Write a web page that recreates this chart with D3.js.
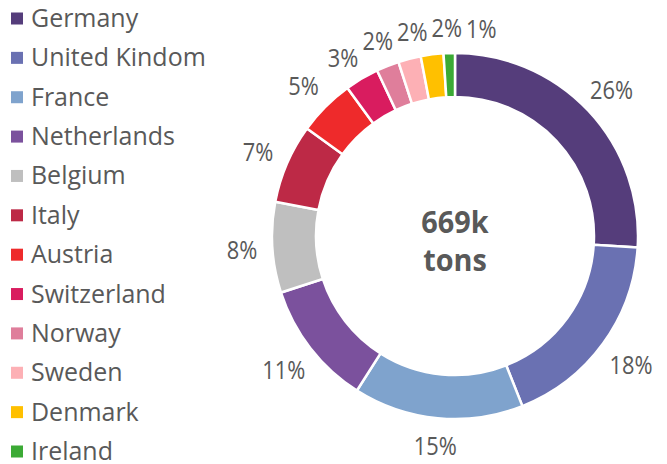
<!DOCTYPE html>
<html>
<head>
<meta charset="utf-8">
<script src="https://cdn.jsdelivr.net/npm/d3@7"></script>
<style>
  body { margin: 0; background: #fff; }
  text { font-family: "Open Sans", "Noto Sans", sans-serif; fill: #595959; }
</style>
</head>
<body>
<svg id="chart" width="667" height="464"></svg>
<script>
// Tonnage share by destination country (percent of total)
const countries = ["Germany", "United Kindom", "France", "Netherlands", "Belgium", "Italy",
                   "Austria", "Switzerland", "Norway", "Sweden", "Denmark", "Ireland"];
const shares = [26, 18, 15, 11, 8, 7, 5, 3, 2, 2, 2, 1];
const colors = ["#553D7B", "#6A71B2", "#7FA3CD", "#7B519D", "#BFBFBF", "#BD2946",
                "#EE2A2B", "#D91C5F", "#DF7E9B", "#FDB0B5", "#FFC000", "#3BAA35"];
const totalLines = ["669k", "tons"];

const svg = d3.select("#chart");
const cx = 455, cy = 236, outerR = 183, innerR = 139;

// Squeeze a text run horizontally so the wide sans fallback reads like a condensed face
function condense(sel, factor) {
  sel.each(function () {
    const len = this.getComputedTextLength();
    d3.select(this).attr("textLength", len * factor).attr("lengthAdjust", "spacingAndGlyphs");
  });
}

// ---- Legend ----
const legend = svg.append("g").attr("class", "legend");
const rowY = d3.scalePoint().domain(countries).range([27, 460]);
const rows = legend.selectAll("g").data(countries).join("g")
  .attr("transform", d => `translate(0,${rowY(d)})`);
rows.append("rect")
  .attr("x", 11).attr("y", -14.5).attr("width", 12).attr("height", 12)
  .attr("fill", (d, i) => colors[i]);
rows.append("text")
  .attr("x", 31).attr("y", 0)
  .style("font-size", "26px")
  .text(d => d)
  .call(condense, 0.96);

// ---- Donut ----
const pie = d3.pie().sort(null).value(d => d)(shares);
const arc = d3.arc().innerRadius(innerR).outerRadius(outerR);
const ring = svg.append("g").attr("transform", `translate(${cx},${cy})`);
ring.selectAll("path").data(pie).join("path")
  .attr("d", arc)
  .attr("fill", (d, i) => colors[i])
  .attr("stroke", "#fff")
  .attr("stroke-width", 2.5)
  .attr("stroke-linejoin", "miter");

// ---- Percentage labels placed just outside the ring ----
const labels = ring.selectAll("text.pct").data(pie).join("text")
  .attr("class", "pct")
  .attr("text-anchor", "middle")
  .attr("dominant-baseline", "central")
  .style("font-size", "26px")
  .text(d => d.data + "%")
  .call(condense, 0.84);

const gap = 15, halfH = 11.5, boxH = 22;
const placed = [];
labels.each(function (d) {
  const halfW = this.getAttribute("textLength") / 2;
  const a = (d.startAngle + d.endAngle) / 2;
  const s = Math.sin(a), c = -Math.cos(a);
  const edge = Math.min(Math.abs(s) > 1e-6 ? halfW / Math.abs(s) : Infinity,
                        Math.abs(c) > 1e-6 ? halfH / Math.abs(c) : Infinity);
  const r = outerR + gap + edge;
  placed.push({ node: this, w: halfW * 2, r, x: r * s, y: r * c });
});

// Relax crowded labels along the top arc: overlapping neighbours slide apart,
// then each one is put back on its own circle
const crowd = placed.filter(p => p.y < -120).sort((a, b) => a.x - b.x);
for (let iter = 0; iter < 200; iter++) {
  for (let i = 1; i < crowd.length; i++) {
    const L = crowd[i - 1], R = crowd[i];
    if (Math.abs(L.y - R.y) >= boxH) continue;
    const need = (L.w + R.w) / 2 + 4;
    const overlap = need - (R.x - L.x);
    if (overlap > 0) {
      L.x -= overlap * 0.3;
      R.x += overlap * 0.7;
    }
  }
  crowd.forEach(p => { p.y = -Math.sqrt(Math.max(0, p.r * p.r - p.x * p.x)); });
}
placed.forEach(p => d3.select(p.node).attr("x", p.x).attr("y", p.y));

// ---- Centre total ----
ring.append("g").selectAll("text").data(totalLines).join("text")
  .attr("text-anchor", "middle")
  .attr("y", (d, i) => -3 + i * 38)
  .style("font-size", "31px")
  .style("font-weight", "bold")
  .text(d => d)
  .call(condense, 0.93);
</script>
</body>
</html>
